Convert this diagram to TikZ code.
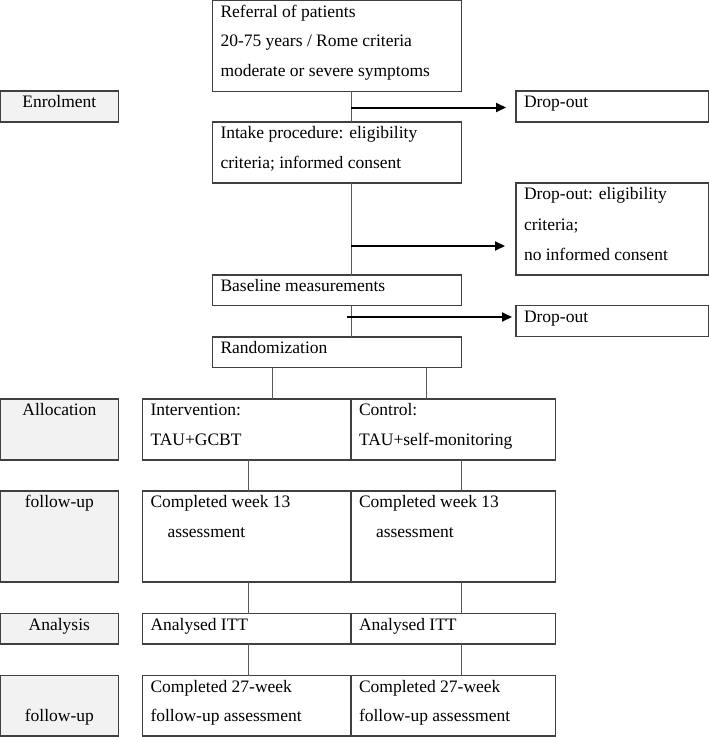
\documentclass[tikz,border=0pt]{standalone}
\usepackage{fontspec}
\setmainfont{Liberation Serif}
\usetikzlibrary{arrows.meta,calc}
\definecolor{labgray}{HTML}{F2F2F2}
\newcommand\bxt[3]{\parbox[t][#2][t]{#1}{\fontsize{17.5pt}{29.5pt}\selectfont\raggedright\leftskip=8pt\rule{0pt}{16.5pt}#3}}
\newcommand\lbt[3]{\parbox[t][#2][t]{#1}{\fontsize{17.5pt}{29.5pt}\selectfont\centering\rule{0pt}{16.5pt}#3}}
\tikzset{
  box/.style={draw=black!75, line width=1.2pt, inner sep=0pt, outer sep=0pt, anchor=north west},
  lab/.style={box, fill=labgray},
  conn/.style={draw=black!65, line width=1pt},
  arr/.style={draw=black, line width=2pt, -{Triangle[length=10pt,width=9pt]}}
}
\begin{document}
\begin{tikzpicture}[x=1pt,y=-1pt]
\useasboundingbox (0,0) rectangle (709,737);
% main column
\node[box] (ref) at (212.5,0.8) {\bxt{249pt}{90.4pt}{Referral of patients\\20-75 years / Rome criteria\\moderate or severe symptoms}};
\node[box] (intake) at (212.5,122) {\bxt{249pt}{61pt}{Intake procedure: eligibility\\criteria; informed consent}};
\node[box] (base) at (212.5,275) {\bxt{249pt}{30.5pt}{Baseline measurements}};
\node[box] (rand) at (212.5,337) {\bxt{249pt}{30.5pt}{Randomization}};
% drop-outs
\node[box] (drop1) at (516,91) {\bxt{192.4pt}{31pt}{Drop-out}};
\node[box] (drop2) at (516,183) {\bxt{192.4pt}{92pt}{\vspace*{1.5pt}Drop-out: eligibility\\criteria;\\no informed consent}};
\node[box] (drop3) at (516,305.5) {\bxt{192.4pt}{31pt}{Drop-out}};
% left labels
\node[lab] (enrol) at (0.6,91) {\lbt{117.5pt}{31pt}{Enrolment}};
\node[lab] (alloc) at (0.6,399) {\lbt{117.5pt}{61pt}{Allocation}};
\node[lab] (fu1) at (0.6,491) {\lbt{117.5pt}{91pt}{follow-up}};
\node[lab] (anal) at (0.6,613.5) {\lbt{117.5pt}{30.5pt}{Analysis}};
\node[lab] (fu2) at (0.6,675.5) {\lbt{117.5pt}{60.5pt}{\mbox{}\\follow-up}};
% arms
\node[box] (interv) at (142.5,399) {\bxt{208.5pt}{61pt}{Intervention:\\TAU+GCBT}};
\node[box] (ctrl) at (351,399) {\bxt{204.5pt}{61pt}{Control:\\TAU+self-monitoring}};
\node[box] (wka) at (142.5,491) {\bxt{208.5pt}{91pt}{Completed week 13\\\hspace*{17pt}assessment}};
\node[box] (wkb) at (351,491) {\bxt{204.5pt}{91pt}{Completed week 13\\\hspace*{17pt}assessment}};
\node[box] (itta) at (142.5,613.5) {\bxt{208.5pt}{30.5pt}{Analysed ITT}};
\node[box] (ittb) at (351,613.5) {\bxt{204.5pt}{30.5pt}{Analysed ITT}};
\node[box] (fa) at (142.5,675.5) {\bxt{208.5pt}{60.5pt}{Completed 27-week\\follow-up assessment}};
\node[box] (fb) at (351,675.5) {\bxt{204.5pt}{60.5pt}{Completed 27-week\\follow-up assessment}};
% coordinates
\coordinate (sp) at (351,0);
\coordinate (xl) at (272,0);
\coordinate (xr) at (426,0);
\coordinate (xa) at (248.5,0);
\coordinate (xb) at (461,0);
\coordinate (a2) at (351,246);
\coordinate (a3) at (347,317);
% spine
\draw[conn] (ref.south -| sp) -- (intake.north -| sp);
\draw[conn] (intake.south -| sp) -- (base.north -| sp);
\draw[conn] (base.south -| sp) -- (rand.north -| sp);
% drop-out arrows
\draw[arr] ($(drop1.west -| sp)+(0,1)$) -- ($(drop1.west)+(-10,1)$);
\draw[arr] (a2) -- ($(a2 -| drop2.west)+(-11,0)$);
\draw[arr] (a3) -- ($(a3 -| drop3.west)+(-4,0)$);
% arms connectors
\draw[conn] (rand.south -| xl) -- (interv.north -| xl);
\draw[conn] (rand.south -| xr) -- (ctrl.north -| xr);
\draw[conn] (interv.south -| xa) -- (wka.north -| xa);
\draw[conn] (ctrl.south -| xb) -- (wkb.north -| xb);
\draw[conn] (wka.south -| xa) -- (itta.north -| xa);
\draw[conn] (wkb.south -| xb) -- (ittb.north -| xb);
\draw[conn] (itta.south -| xa) -- (fa.north -| xa);
\draw[conn] (ittb.south -| xb) -- (fb.north -| xb);
\end{tikzpicture}
\end{document}
